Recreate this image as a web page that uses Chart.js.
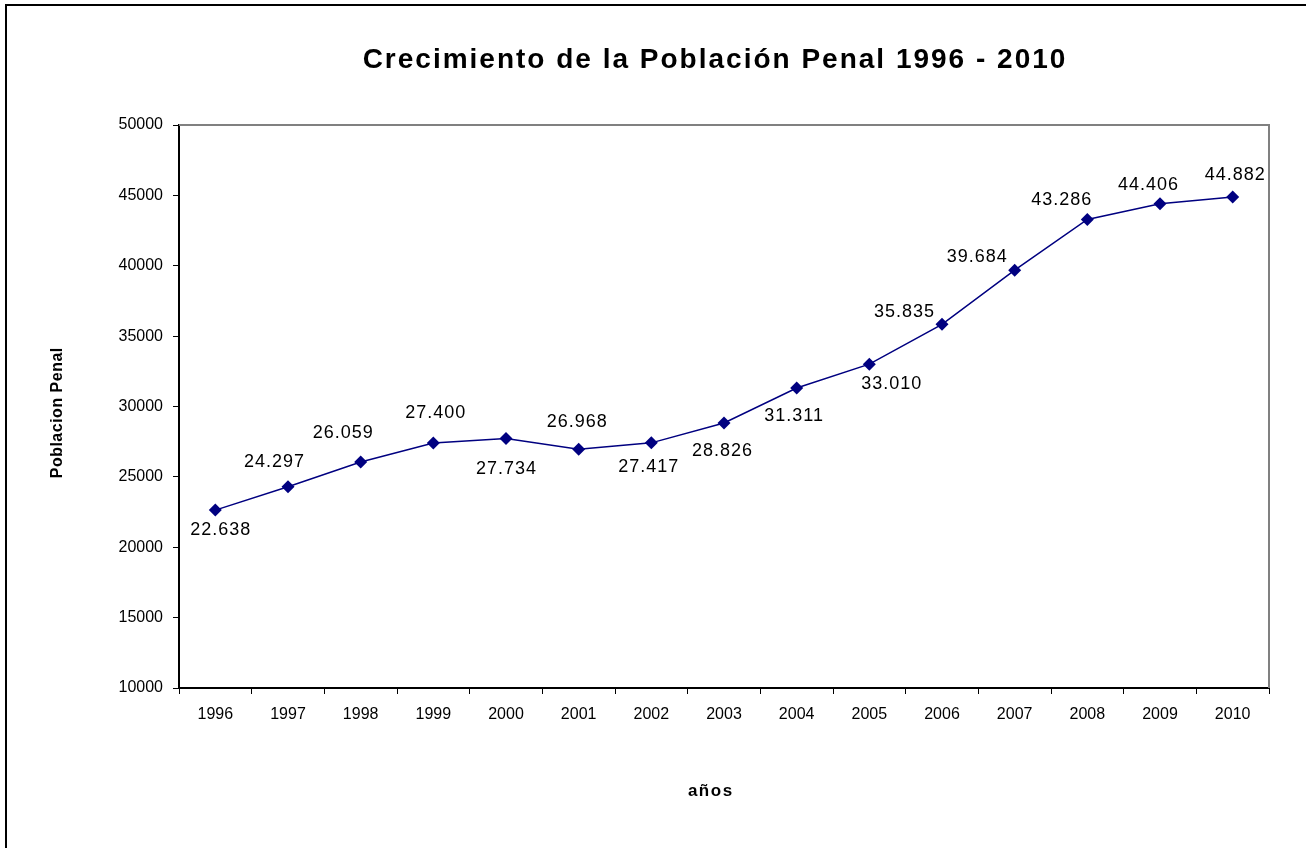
<!DOCTYPE html>
<html>
<head>
<meta charset="utf-8">
<script src="https://cdn.jsdelivr.net/npm/chart.js@4.4.0/dist/chart.umd.min.js"></script>
<style>
  html, body { margin: 0; padding: 0; background: #fff; }
  #chart { display: block; }
</style>
</head>
<body>
<canvas id="chart" width="1306" height="848"></canvas>
<script>
const years = ['1996', '1997', '1998', '1999', '2000', '2001', '2002', '2003', '2004', '2005', '2006', '2007', '2008', '2009', '2010'];
const poblacion = [22638, 24297, 26059, 27400, 27734, 26968, 27417, 28826, 31311, 33010, 35835, 39684, 43286, 44406, 44882];
const yTicks = [10000, 15000, 20000, 25000, 30000, 35000, 40000, 45000, 50000];

// where each value label sits relative to its point (dx, dy in px)
const labelOffsets = [
  [5, 20], [-14, -25], [-18, -29], [2, -30], [0, 31], [-2, -27], [-3, 24], [-2, 28],
  [-3, 28], [22, 20], [-38, -12], [-38, -13], [-26, -19], [-12, -19], [2, -22]
];

const FONT = 'Liberation Sans, Arial, sans-serif';
const fmt = (v) => v.toLocaleString('de-DE');

// centred text with extra letter spacing
const spacedText = (ctx, text, x, y, spacing) => {
  ctx.letterSpacing = spacing + 'px';
  ctx.fillText(text, x + spacing / 2, y);
  ctx.letterSpacing = '0px';
};

const frame = {
  id: 'frame',
  beforeDraw(chart) {
    const { ctx } = chart;
    ctx.save();
    ctx.fillStyle = '#fff';
    ctx.fillRect(0, 0, chart.width, chart.height);
    // outer chart border (only left and top fall inside the picture)
    ctx.strokeStyle = '#000';
    ctx.lineWidth = 2;
    ctx.strokeRect(6, 5, chart.width + 10, chart.height + 10);
    ctx.restore();
  },
  afterDatasetsDraw(chart) {
    const { ctx, chartArea: a } = chart;
    ctx.save();
    // grey top and right sides of plot area
    ctx.strokeStyle = '#808080';
    ctx.lineWidth = 2;
    ctx.beginPath();
    ctx.moveTo(a.left, a.top);
    ctx.lineTo(a.right, a.top);
    ctx.lineTo(a.right, a.bottom);
    ctx.stroke();

    // value labels
    const meta = chart.getDatasetMeta(0);
    ctx.fillStyle = '#000';
    ctx.font = '18px ' + FONT;
    ctx.textAlign = 'center';
    ctx.textBaseline = 'middle';
    meta.data.forEach((pt, i) => {
      const [dx, dy] = labelOffsets[i];
      spacedText(ctx, fmt(poblacion[i]), pt.x + dx, pt.y + dy, 1);
    });

    // titles
    ctx.font = 'bold 28px ' + FONT;
    spacedText(ctx, 'Crecimiento de la Población Penal 1996 - 2010', 714, 60, 2);
    ctx.font = 'bold 17px ' + FONT;
    spacedText(ctx, 'años', 710, 791, 1.5);
    ctx.translate(58, 413);
    ctx.rotate(-Math.PI / 2);
    ctx.font = 'bold 16px ' + FONT;
    spacedText(ctx, 'Poblacion Penal', 0, 0, 0.5);
    ctx.restore();
  }
};

new Chart(document.getElementById('chart'), {
  type: 'line',
  data: {
    labels: years,
    datasets: [
      {
        data: poblacion,
        borderColor: '#000080',
        borderWidth: 1.5,
        backgroundColor: '#000080',
        pointStyle: 'rectRot',
        pointRadius: 6.5,
        pointBorderWidth: 0,
        tension: 0
      }
    ]
  },
  options: {
    responsive: false,
    animation: false,
    layout: { padding: { left: 0, top: 125, right: 37, bottom: 0 } },
    plugins: {
      legend: { display: false },
      tooltip: { enabled: false }
    },
    scales: {
      x: {
        offset: true,
        grid: {
          offset: true,
          drawOnChartArea: false,
          drawTicks: true,
          tickLength: 6,
          color: '#000',
          lineWidth: 1
        },
        border: { color: '#000', width: 2 },
        ticks: { color: '#000', font: { family: FONT, size: 16 }, padding: 11, maxRotation: 0 },
        afterFit: (s) => { s.height = 160; }
      },
      y: {
        min: 10000,
        max: 50000,
        afterBuildTicks: (s) => { s.ticks = yTicks.map((v) => ({ value: v })); },
        grid: {
          drawOnChartArea: false,
          drawTicks: true,
          tickLength: 6,
          color: '#000',
          lineWidth: 1
        },
        border: { color: '#000', width: 2 },
        ticks: { color: '#000', font: { family: FONT, size: 16 }, padding: 10, callback: (v) => String(v) },
        afterFit: (s) => { s.width = 179; }
      }
    }
  },
  plugins: [frame]
});
</script>
</body>
</html>
